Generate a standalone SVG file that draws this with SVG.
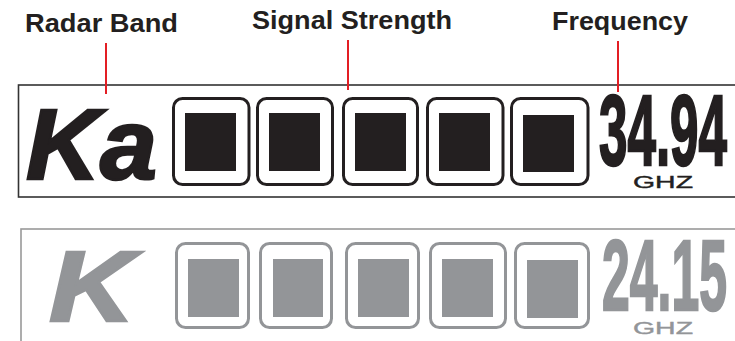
<svg xmlns="http://www.w3.org/2000/svg" width="735" height="341" viewBox="0 0 735 341">
<style>
.lbl{font-family:"Liberation Sans",Arial,sans-serif;font-weight:bold;font-size:26px;fill:#231f20}
.panelA{fill:none;stroke:#333;stroke-width:1.6}
.panelB{fill:none;stroke:#999;stroke-width:1.6}
.boxA{fill:#fff;stroke:#231f20;stroke-width:3}
.boxB{fill:#fff;stroke:#939598;stroke-width:3}
.inA{fill:#231f20}
.inB{fill:#939598}
.band{font-family:"Liberation Sans",Arial,sans-serif;font-weight:bold;font-style:italic;font-size:100px}
.freq{font-family:"Liberation Sans Narrow","Liberation Sans",Arial,sans-serif;font-weight:bold;font-size:100px}
.ghz{font-family:"Liberation Sans",Arial,sans-serif;font-size:17px}
.lead{stroke:#e31e24;stroke-width:2;fill:none}
</style>
<g id="labels">
<text class="lbl" x="25" y="32" textLength="153" lengthAdjust="spacingAndGlyphs">Radar Band</text>
<text class="lbl" x="252" y="29" textLength="200" lengthAdjust="spacingAndGlyphs">Signal Strength</text>
<text class="lbl" x="552" y="30" textLength="136" lengthAdjust="spacingAndGlyphs">Frequency</text>
</g>
<g id="panel-ka">
<rect class="panelA" x="18.5" y="85" width="730" height="112"/>
<text class="band" x="26" y="179" fill="#231f20" stroke="#231f20" stroke-width="2.5" textLength="131" lengthAdjust="spacingAndGlyphs">Ka</text>
<g id="bars-ka">
<rect class="boxA" x="173.5" y="98.5" width="75.5" height="86" rx="9"/>
<rect class="boxA" x="257.5" y="98.5" width="75" height="86" rx="9"/>
<rect class="boxA" x="343.5" y="98.5" width="74" height="86" rx="9"/>
<rect class="boxA" x="427.5" y="98.5" width="75.5" height="86" rx="9"/>
<rect class="boxA" x="511.5" y="98.5" width="76.5" height="86" rx="9"/>
<rect class="inA" x="185" y="113" width="51" height="58"/>
<rect class="inA" x="269" y="113" width="51" height="58"/>
<rect class="inA" x="355" y="113" width="51" height="58"/>
<rect class="inA" x="439" y="113" width="51" height="58"/>
<rect class="inA" x="523" y="115" width="51" height="57"/>
</g>
<text class="freq" x="599" y="165" fill="#231f20" stroke="#231f20" stroke-width="2.5" textLength="128" lengthAdjust="spacingAndGlyphs">34.94</text>
<text class="ghz" x="633" y="188" fill="#231f20" stroke="#231f20" stroke-width="0.4" textLength="60" lengthAdjust="spacingAndGlyphs">GHZ</text>
</g>
<g id="panel-k">
<rect class="panelB" x="21" y="229" width="730" height="130"/>
<text class="band" x="49" y="321" fill="#939598" stroke="#939598" stroke-width="2.5" textLength="86" lengthAdjust="spacingAndGlyphs">K</text>
<g id="bars-k">
<rect class="boxB" x="176.5" y="243.5" width="72" height="84" rx="9"/>
<rect class="boxB" x="260.5" y="243.5" width="71" height="84" rx="9"/>
<rect class="boxB" x="346.5" y="243.5" width="72" height="84" rx="9"/>
<rect class="boxB" x="430.5" y="243.5" width="75" height="84" rx="9"/>
<rect class="boxB" x="515.5" y="243.5" width="73" height="84" rx="9"/>
<rect class="inB" x="188" y="259" width="51" height="58"/>
<rect class="inB" x="273" y="259" width="50" height="58"/>
<rect class="inB" x="358" y="259" width="51" height="58"/>
<rect class="inB" x="442" y="259" width="51" height="58"/>
<rect class="inB" x="527" y="260" width="51" height="58"/>
</g>
<text class="freq" x="602" y="310" fill="#939598" stroke="#939598" stroke-width="2.5" textLength="125" lengthAdjust="spacingAndGlyphs">24.15</text>
<text class="ghz" x="633" y="334" fill="#939598" stroke="#939598" stroke-width="0.4" textLength="60" lengthAdjust="spacingAndGlyphs">GHZ</text>
</g>
<g id="connectors">
<line class="lead" x1="106" y1="43" x2="106" y2="94"/>
<line class="lead" x1="348" y1="40" x2="348" y2="90"/>
<line class="lead" x1="618" y1="41" x2="618" y2="92"/>
</g>
</svg>
